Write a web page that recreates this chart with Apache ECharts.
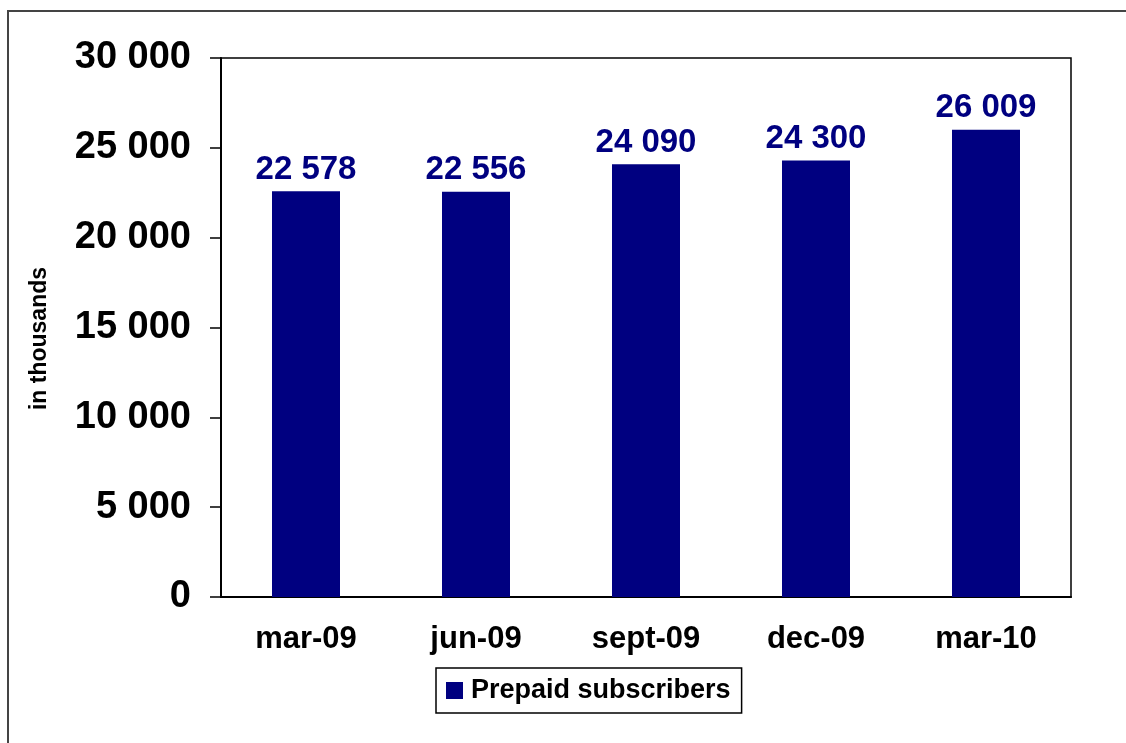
<!DOCTYPE html>
<html>
<head>
<meta charset="utf-8">
<script src="https://cdn.jsdelivr.net/npm/echarts@6/dist/echarts.min.js"></script>
<style>
  html, body { margin: 0; padding: 0; background: #fff; }
  #chart { width: 1126px; height: 743px; }
</style>
</head>
<body>
<div id="chart"></div>
<script>
// Prepaid subscriber base by quarter (thousands)
const categories = ['mar-09', 'jun-09', 'sept-09', 'dec-09', 'mar-10'];
const prepaidSubscribers = [22578, 22556, 24090, 24300, 26009];
const seriesName = 'Prepaid subscribers';
const axisTitle = 'in thousands';

const FONT = '"Liberation Sans", Arial, sans-serif';
const NAVY = '#000080';

// "22578" -> "22 578"
function spaced(v) {
  return String(Math.round(v)).replace(/\B(?=(\d{3})+(?!\d))/g, ' ');
}

const chart = echarts.init(document.getElementById('chart'));
chart.setOption({
  backgroundColor: '#fff',
  animation: false,
  graphic: [{
    type: 'rect',
    shape: { x: 8, y: 11, width: 1200, height: 800 },
    style: { fill: 'none', stroke: '#444', lineWidth: 2 },
    silent: true
  }],
  grid: {
    left: 221, right: 55, top: 58, bottom: 146,
    show: true, borderColor: '#000', borderWidth: 1.5
  },
  legend: {
    data: [seriesName],
    left: 436, top: 668,
    orient: 'horizontal',
    itemWidth: 17, itemHeight: 17,
    icon: 'rect',
    padding: [9, 11, 9, 10],
    borderColor: '#000', borderWidth: 1.5,
    textStyle: {
      fontFamily: FONT, fontWeight: 'bold', fontSize: 27, color: '#000',
      padding: [0, 0, 0, 3]
    }
  },
  xAxis: {
    type: 'category',
    data: categories,
    axisLine: { lineStyle: { color: '#000', width: 2 } },
    axisTick: { alignWithLabel: false, length: 10, lineStyle: { color: '#000', width: 1.5 } },
    axisLabel: { margin: 27, fontFamily: FONT, fontWeight: 'bold', fontSize: 31, color: '#000' },
    splitLine: { show: false }
  },
  yAxis: {
    type: 'value',
    min: 0, max: 30000, interval: 5000,
    name: axisTitle,
    nameLocation: 'middle',
    nameGap: 170,
    nameRotate: 90,
    nameTextStyle: {
      fontFamily: FONT, fontWeight: 'bold', fontSize: 23, color: '#000',
      padding: [0, 22, 0, 0]
    },
    axisLine: { show: true, lineStyle: { color: '#000', width: 2 } },
    axisTick: { show: true, inside: false, length: 11, lineStyle: { color: '#000', width: 1.5 } },
    axisLabel: {
      margin: 30, fontFamily: FONT, fontWeight: 'bold', fontSize: 38, color: '#000',
      padding: [10, 0, 0, 0],
      formatter: v => spaced(v)
    },
    splitLine: { show: false }
  },
  series: [{
    name: seriesName,
    type: 'bar',
    data: prepaidSubscribers,
    barWidth: 68,
    itemStyle: { color: NAVY },
    label: {
      show: true, position: 'top', distance: 5,
      fontFamily: FONT, fontWeight: 'bold', fontSize: 33, color: NAVY,
      formatter: p => spaced(p.value)
    }
  }]
});
</script>
</body>
</html>
